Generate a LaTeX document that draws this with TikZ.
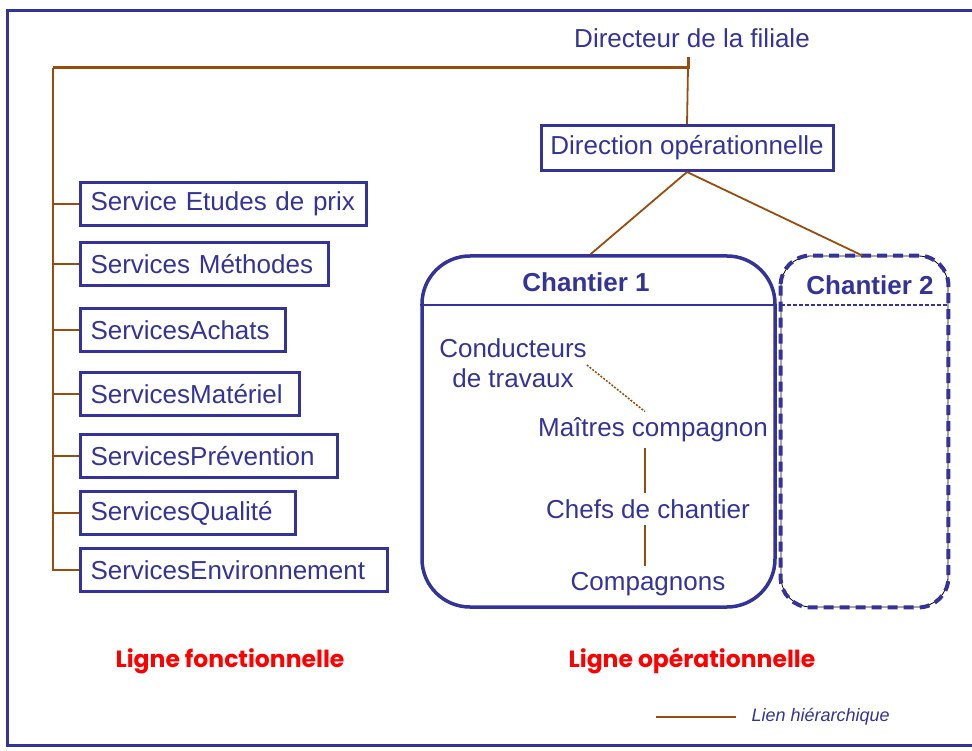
\documentclass[tikz,border=0pt]{standalone}
\usepackage{fontspec}
\setmainfont{Liberation Sans}
\newfontfamily\lignefont{Poppins}
\usetikzlibrary{positioning,calc}
\definecolor{navy}{RGB}{51,51,153}
\definecolor{brun}{RGB}{153,76,12}
\definecolor{rouge}{RGB}{255,0,0}

\begin{document}
\begin{tikzpicture}[x=1pt,y=-1pt, every node/.style={font=\fontsize{26}{30}\selectfont, text=navy}]
\tikzset{svc/.style={draw=navy,line width=3pt,inner xsep=10pt,inner ysep=0pt,text width=#1,align=left,minimum height=43pt,anchor=west},
  lien/.style={draw=brun,line width=1.8pt},
  chant/.style={draw=navy,line width=3.5pt,rounded corners=48pt,minimum width=353pt,minimum height=351pt},
  titre/.style={font=\fontsize{26}{30}\selectfont\bfseries},
  ligne/.style={font=\lignefont\fontsize{23.5}{28}\selectfont\bfseries,text=rouge}}
\useasboundingbox (0,0) rectangle (972,751);
% cadre
\draw[navy,line width=3pt] (7,11) rectangle (980,745);
% direction
\node (dirfil) at (692,38) {Directeur de la filiale};
\node[draw=navy,line width=3pt,inner xsep=8pt,inner ysep=0pt,minimum height=45pt,minimum width=292pt] (dirop) at (687,148) {Direction opérationnelle};
\coordinate (top) at (688,68);
\coordinate (topl) at (53,68);
\coordinate (tick) at (688,57);
\draw[brun,line width=3pt] (topl) -- (top) -- (tick);
\draw[lien] (top) -- (dirop.north);
% services fonctionnels
\node[svc=266pt] (etudes) at (79,204) {Service Etudes de prix};
\node[svc=228pt] (methodes) at (79,264) {Services Méthodes};
\node[svc=185pt] (achats) at (79,330) {ServicesAchats};
\node[svc=199pt] (materiel) at (79,394) {ServicesMatériel};
\node[svc=237pt] (prevention) at (79,456) {ServicesPrévention};
\node[svc=195pt] (qualite) at (79,513) {ServicesQualité};
\node[svc=287pt] (environ) at (79,570) {ServicesEnvironnement};
\draw[lien] (topl) -- (environ.west -| topl) -- (environ.west);
\foreach \s in {etudes,methodes,achats,materiel,prevention,qualite}
  \draw[lien] (\s.west -| topl) -- (\s.west);
% chantiers
\node[chant] (chant1) at (598.5,431.5) {};
\node[chant,draw=black,line width=0.8pt,minimum width=167pt,rounded corners=30pt] (chant2) at (864.5,431.5) {};
\draw[navy,line width=4pt,dash pattern=on 10pt off 6pt,rounded corners=30pt] (chant2.north west) rectangle (chant2.south east);
\draw[navy,line width=2pt] (chant1.west |- 0,305) -- (chant1.east |- 0,305);
\draw[navy,line width=2pt,dash pattern=on 4pt off 2pt] (chant2.west |- 0,305) -- (chant2.east |- 0,305);
\node[titre] (titre1) at (586,282) {Chantier 1};
\node[titre] (titre2) at (870,285) {Chantier 2};
\draw[lien] (dirop.south) -- ([xshift=-8pt]chant1.north);
\draw[lien] (dirop.south) -- ([xshift=-2pt]chant2.north);
% ligne operationnelle
\node[align=center,inner sep=0pt] (conduc) at (513,363) {Conducteurs\\de travaux};
\node[inner sep=0pt] (maitres) at (653,430) {Maîtres compagnon};
\node[inner sep=0pt] (chefs) at (648,509) {Chefs de chantier};
\node[inner sep=0pt] (compag) at (648,584) {Compagnons};
\draw[brun,line width=1.5pt,dash pattern=on 2pt off 1.5pt] ([yshift=-2pt]conduc.east) -- ([xshift=-8pt,yshift=6pt]maitres.north);
\draw[lien] ([xshift=-3pt,yshift=-6pt]chefs.north |- maitres.south) -- ([xshift=-3pt,yshift=6pt]chefs.north);
\draw[lien] ([xshift=-3pt,yshift=-6pt]chefs.south) -- ([xshift=-3pt,yshift=6pt]compag.north);
% legende
\node[ligne] (lfonc) at (230,661) {Ligne fonctionnelle};
\node[ligne] (lop) at (692,661) {Ligne opérationnelle};
\node[font=\fontsize{18}{22}\selectfont\itshape,anchor=west] (leg) at (748,717) {Lien hiérarchique};
\coordinate (legl) at (656,717);
\draw[lien] (legl) -- ([xshift=-12pt]leg.west);
\end{tikzpicture}
\end{document}
